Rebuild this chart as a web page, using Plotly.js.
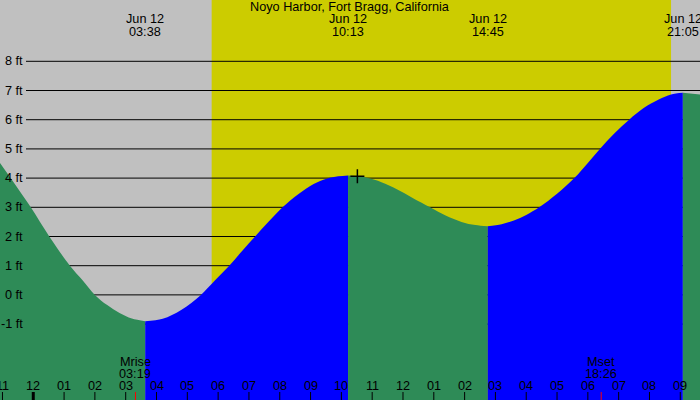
<!DOCTYPE html>
<html>
<head>
<meta charset="utf-8">
<script src="https://cdn.plot.ly/plotly-3.0.1.min.js"></script>
<style>html,body{margin:0;padding:0;background:#c0c0c0;}#chart{width:700px;height:400px;}</style>
</head>
<body>
<div id="chart"></div>
<script>
// Tide curve (hours after midnight Jun 12, feet)
const curveHours = [-1.08, -0.6, -0.08, 0.52, 1.19, 1.6, 2.0, 2.4, 2.8, 3.2, 3.633,
  4.2, 4.8, 5.44, 5.9, 6.36, 6.8, 7.2, 7.65, 8.09, 8.6, 9.1, 9.52, 9.9, 10.217,
  10.6, 10.87, 11.3, 11.8, 12.3, 12.88, 13.4, 13.9, 14.35, 14.75,
  15.2, 15.6, 16.0, 16.42, 17.0, 17.56, 18.0, 18.39, 18.85, 19.34, 19.8, 20.3, 20.7, 21.083,
  21.64];
const curveFeet = [4.52, 3.8, 3.0, 2.0, 1.0, 0.5, 0.0, -0.35, -0.62, -0.81, -0.90,
  -0.82, -0.52, 0.0, 0.5, 1.0, 1.53, 2.0, 2.52, 3.0, 3.45, 3.8, 3.98, 4.06, 4.09,
  4.06, 4.0, 3.86, 3.62, 3.33, 3.0, 2.71, 2.5, 2.39, 2.35,
  2.42, 2.55, 2.74, 3.0, 3.46, 4.0, 4.52, 5.0, 5.52, 6.0, 6.39, 6.69, 6.86, 6.92,
  6.86];

// Tide extremes (top labels)
const extremeHours = [3.633, 10.217, 14.75, 21.083];
const extremeDates = ["Jun 12", "Jun 12", "Jun 12", "Jun 12"];
const extremeTimes = ["03:38", "10:13", "14:45", "21:05"];

// Current-time marker
const markerHours = [10.52];
const markerFeet = [4.06];

// Sun
const sunriseHour = 5.79;
const sunsetHour = 20.70;

// Moon
const moonHours = [3.317, 18.433];
const moonNames = ["Mrise", "Mset"];
const moonTimes = ["03:19", "18:26"];

// Y levels
const levelFeet = [-1, 0, 1, 2, 3, 4, 5, 6, 7, 8];
const levelLabels = ["-1 ft", "0 ft", "1 ft", "2 ft", "3 ft", "4 ft", "5 ft", "6 ft", "7 ft", "8 ft"];

// Hour ticks
const tickHours = [-1, 0, 1, 2, 3, 4, 5, 6, 7, 8, 9, 10, 11, 12, 13, 14, 15, 16, 17, 18, 19, 20, 21];
const tickLabels = ["11", "12", "01", "02", "03", "04", "05", "06", "07", "08", "09", "10", "11", "12", "01", "02", "03", "04", "05", "06", "07", "08", "09"];

const xRange = [-1.08, 21.64];
const yRange = [-3.6, 10.1];
const GREEN = "#2e8b57", BLUE = "#0000ff", YELLOW = "#cccc00", GRAY = "#c0c0c0";
const FONT = "Liberation Sans, Arial, sans-serif";
const FS = 12.7;

// Split curve into segments at extremes
const bounds = [0];
extremeHours.forEach(h => { const i = curveHours.indexOf(h); if (i > 0) bounds.push(i); });
bounds.push(curveHours.length - 1);

const traces = [];
for (let s = 0; s < bounds.length - 1; s++) {
  const a = bounds[s], b = bounds[s + 1];
  const xs = curveHours.slice(a, b + 1), ys = curveFeet.slice(a, b + 1);
  const rising = ys[ys.length - 1] > ys[0];
  const col = rising ? BLUE : GREEN;
  traces.push({x: [xs[0], xs[xs.length - 1]], y: [yRange[0] - 1, yRange[0] - 1], mode: "lines", line: {width: 0}, hoverinfo: "skip", showlegend: false});
  traces.push({x: xs, y: ys, mode: "lines", line: {width: 0, shape: "spline", smoothing: 1, color: col}, fill: "tonexty", fillcolor: col, hoverinfo: "skip", showlegend: false});
}
traces.push({x: markerHours, y: markerFeet, mode: "markers", marker: {symbol: "cross-thin", size: 10, line: {width: 1.5, color: "#000"}}, showlegend: false, hoverinfo: "skip"});

const shapes = [];
shapes.push({type: "rect", layer: "below", xref: "x", yref: "paper", x0: sunriseHour, x1: sunsetHour, y0: 0, y1: 1, fillcolor: YELLOW, line: {width: 0}});
levelFeet.forEach(v => shapes.push({type: "line", layer: "below", xref: "paper", yref: "y", x0: 26 / 700, x1: 1, y0: v, y1: v, line: {color: "#000", width: 1}}));
tickHours.forEach(h => shapes.push({type: "line", xref: "x", yref: "paper", x0: h, x1: h, y0: 0, y1: 8 / 400, line: {color: "#000", width: h === 0 ? 3 : 1}}));
moonHours.forEach(h => shapes.push({type: "line", xref: "x", yref: "paper", x0: h, x1: h, y0: 0, y1: 8 / 400, line: {color: "#ff0000", width: 1}}));

const ann = [];
const txt = (o) => Object.assign({showarrow: false, font: {family: FONT, size: FS, color: "#000"}, borderpad: 0}, o);
ann.push(txt({text: "Noyo Harbor, Fort Bragg, California", xref: "paper", yref: "paper", x: 0.5, y: 1 - 7 / 400, xanchor: "center", yanchor: "middle"}));
extremeHours.forEach((h, i) => {
  ann.push(txt({text: extremeDates[i], xref: "x", yref: "paper", x: h, y: 1 - 19 / 400, xanchor: "center", yanchor: "middle"}));
  ann.push(txt({text: extremeTimes[i], xref: "x", yref: "paper", x: h, y: 1 - 32 / 400, xanchor: "center", yanchor: "middle"}));
});
levelFeet.forEach((v, i) => ann.push(txt({text: levelLabels[i], xref: "paper", yref: "y", x: 24 / 700, y: v, xanchor: "right", yanchor: "middle"})));
tickHours.forEach((h, i) => ann.push(txt({text: tickLabels[i], xref: "x", yref: "paper", x: h, y: (400 - 386) / 400, xanchor: "center", yanchor: "middle"})));
moonHours.forEach((h, i) => {
  ann.push(txt({text: moonNames[i], xref: "x", yref: "paper", x: h, y: (400 - 361.5) / 400, xanchor: "center", yanchor: "middle"}));
  ann.push(txt({text: moonTimes[i], xref: "x", yref: "paper", x: h, y: (400 - 373.5) / 400, xanchor: "center", yanchor: "middle"}));
});

const layout = {
  width: 700, height: 400,
  margin: {l: 0, r: 0, t: 0, b: 0, pad: 0},
  paper_bgcolor: GRAY, plot_bgcolor: GRAY,
  xaxis: {range: xRange, visible: false, fixedrange: true},
  yaxis: {range: yRange, visible: false, fixedrange: true},
  shapes: shapes, annotations: ann, showlegend: false,
  font: {family: FONT, size: FS, color: "#000"}
};
Plotly.newPlot("chart", traces, layout, {displayModeBar: false, staticPlot: true});
</script>
</body>
</html>
